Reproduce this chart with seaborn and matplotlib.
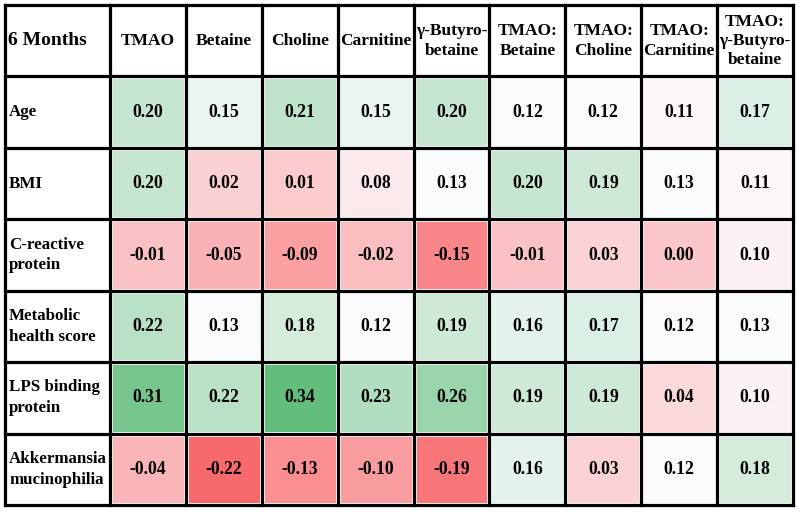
import numpy as np
import pandas as pd
import matplotlib
matplotlib.use("Agg")
import matplotlib.pyplot as plt
import seaborn as sns
from matplotlib.colors import LinearSegmentedColormap, TwoSlopeNorm

title = "6 Months"
columns = ["TMAO", "Betaine", "Choline", "Carnitine", "γ-Butyro-\nbetaine",
           "TMAO:\nBetaine", "TMAO:\nCholine", "TMAO:\nCarnitine", "TMAO:\nγ-Butyro-\nbetaine"]
rows = ["Age", "BMI", "C-reactive\nprotein", "Metabolic\nhealth score",
        "LPS binding\nprotein", "Akkermansia\nmucinophilia"]

age = [0.20, 0.15, 0.21, 0.15, 0.20, 0.12, 0.12, 0.11, 0.17]
bmi = [0.20, 0.02, 0.01, 0.08, 0.13, 0.20, 0.19, 0.13, 0.11]
crp = [-0.01, -0.05, -0.09, -0.02, -0.15, -0.01, 0.03, 0.00, 0.10]
mhs = [0.22, 0.13, 0.18, 0.12, 0.19, 0.16, 0.17, 0.12, 0.13]
lps = [0.31, 0.22, 0.34, 0.23, 0.26, 0.19, 0.19, 0.04, 0.10]
akk = [-0.04, -0.22, -0.13, -0.10, -0.19, 0.16, 0.03, 0.12, 0.18]

df = pd.DataFrame([age, bmi, crp, mhs, lps, akk], index=rows, columns=columns)

sns.set_theme(style="white")
plt.rcParams['font.family'] = ['Liberation Serif', 'DejaVu Serif']
plt.rcParams['font.weight'] = 'bold'
plt.rcParams['text.color'] = 'black'

W, H = 800, 512
fig = plt.figure(figsize=(8, 5.12), dpi=100)
fig.patch.set_facecolor("white")

# pixel geometry of the table
x0, xl, x1 = 5, 110, 793
y0, y1 = 5, 505
nrow, ncol = len(rows) + 1, len(columns)
rh = (y1 - y0) / nrow
cw = (x1 - xl) / ncol

bg = fig.add_axes([0, 0, 1, 1])
bg.set_xlim(0, W); bg.set_ylim(H, 0); bg.axis("off")

ax = fig.add_axes([xl / W, (H - y1) / H, (x1 - xl) / W, (y1 - y0 - rh) / H])
cmap = LinearSegmentedColormap.from_list("rwg", ["#F8696B", "#FCFCFF", "#63BE7B"])
vals = df.values
norm = TwoSlopeNorm(vmin=vals.min(), vcenter=float(np.median(vals)), vmax=vals.max())
sns.heatmap(df, ax=ax, cmap=cmap, norm=norm, annot=True, fmt=".2f", cbar=False,
            linewidths=2.2, linecolor="white",
            annot_kws={"color": "black", "fontsize": 12.7, "fontweight": "bold",
                       "family": ["Liberation Serif", "DejaVu Serif"]})
ax.set_xticks([]); ax.set_yticks([])
ax.set_xlabel(""); ax.set_ylabel("")

ov = fig.add_axes([0, 0, 1, 1], zorder=5)
ov.set_xlim(0, W); ov.set_ylim(H, 0); ov.axis("off")
ov.patch.set_alpha(0)
lw = 2.3
for i in range(nrow + 1):
    y = y0 + i * rh
    ov.plot([x0, x1], [y, y], color="black", lw=lw, solid_capstyle="projecting")
xs = [x0] + [xl + j * cw for j in range(ncol + 1)]
for x in xs:
    ov.plot([x, x], [y0, y1], color="black", lw=lw, solid_capstyle="projecting")

# header texts
bg.text(x0 + 3, y0 + rh / 2, title, ha="left", va="center", fontsize=14,
        fontweight="bold", color="black")
for j, c in enumerate(columns):
    ls = 1.25 if c.count("\n") > 1 else 1.35
    bg.text(xl + (j + 0.5) * cw, y0 + rh / 2, c, ha="center", va="center",
            fontsize=12.5, fontweight="bold", linespacing=ls, color="black")
for i, r in enumerate(rows):
    bg.text(x0 + 4, y0 + (i + 1.5) * rh, r, ha="left", va="center",
            fontsize=12.2, fontweight="bold", linespacing=1.4, color="black")

fig.savefig("out.png", dpi=100, facecolor="white")
